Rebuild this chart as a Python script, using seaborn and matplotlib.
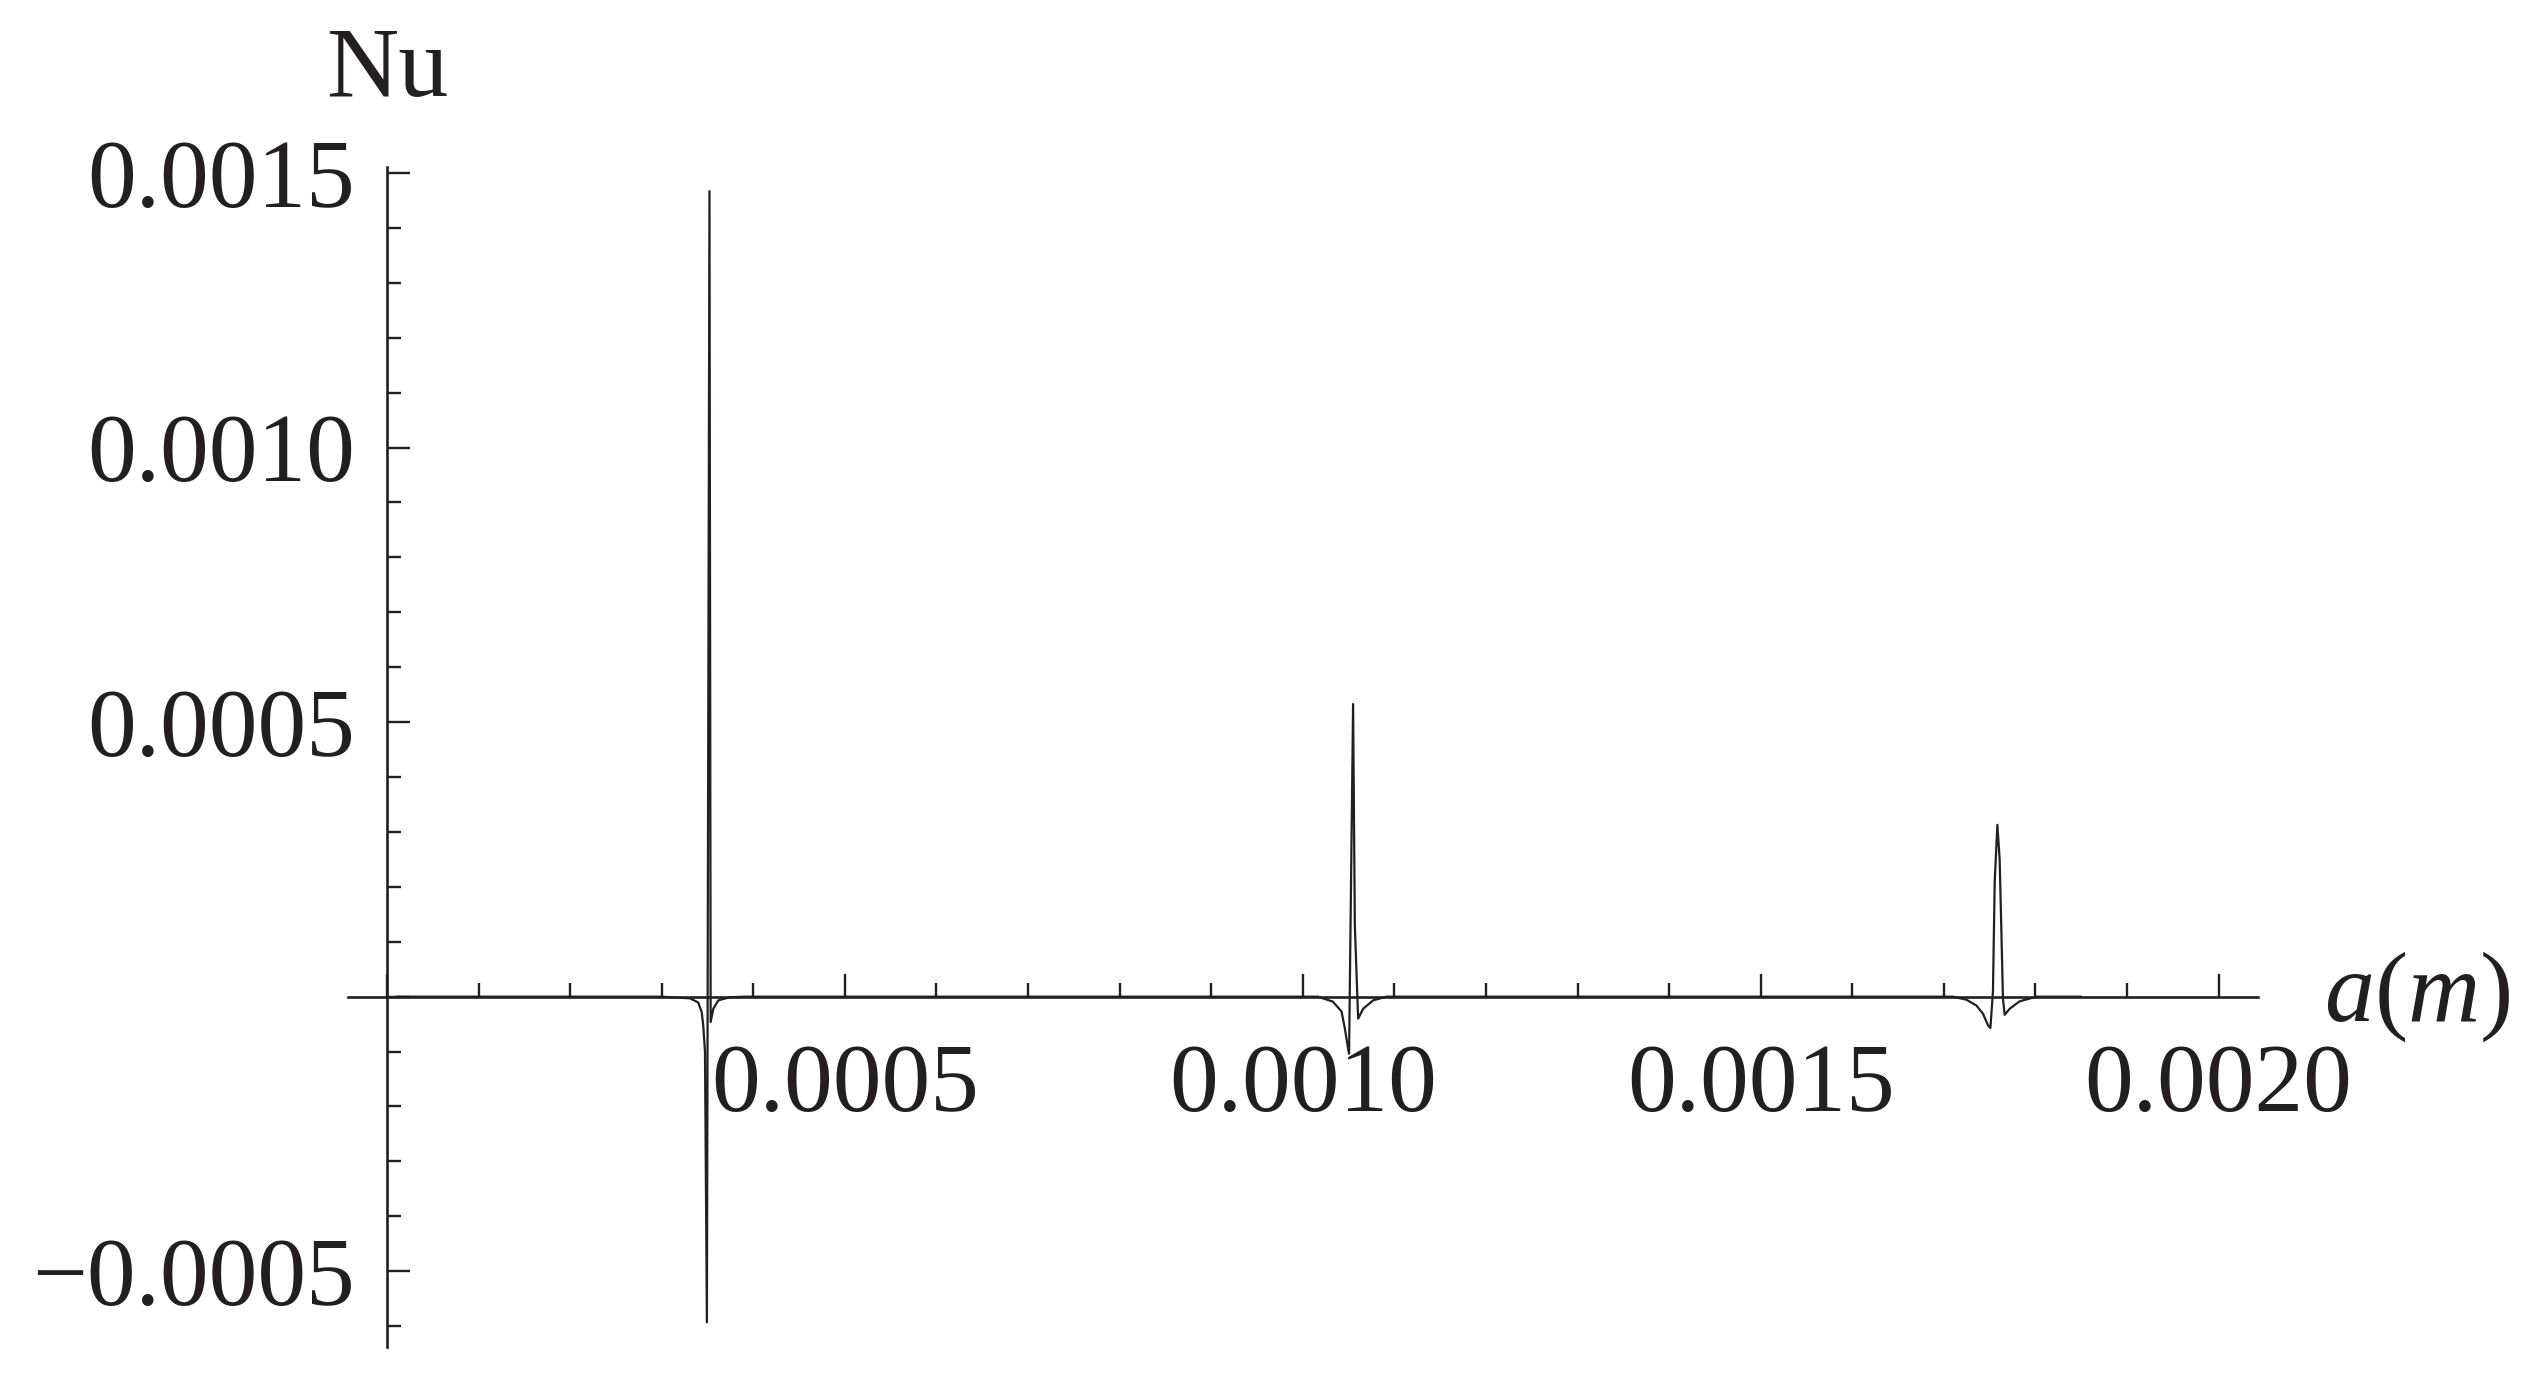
import numpy as np
import pandas as pd
import seaborn as sns
import matplotlib
matplotlib.use("Agg")
import matplotlib.pyplot as plt
from matplotlib.ticker import MultipleLocator, FuncFormatter

# Valores (a em metros, Nu adimensional)
base_x = [0.00001, 0.00020, 0.00030]
base_y = [0.0, 0.0, 0.0]

pico1_x = [0.0003144, 0.0003308, 0.0003398, 0.0003436, 0.0003453, 0.0003472,
           0.0003493, 0.0003521, 0.0003534, 0.0003563, 0.0003617, 0.0003745, 0.0003908]
pico1_y = [-0.0000015, -0.000003, -0.0000105, -0.000028, -0.000052, -0.0001,
           -0.000593, 0.001467, -0.000046, -0.000022, -0.0000067, -0.000001, 0.0]

meio_x = [0.00060, 0.00090, 0.0010164]
meio_y = [0.0, 0.0, 0.0]

pico2_x = [0.0010328, 0.0010423, 0.0010459, 0.0010495, 0.0010505, 0.0010549,
           0.0010568, 0.0010604, 0.0010659, 0.0010768, 0.0010914]
pico2_y = [-0.000009, -0.000027, -0.000058, -0.000095, -0.000104, 0.000533,
           0.00013, -0.00004, -0.000022, -0.0000067, 0.0]

meio2_x = [0.00130, 0.00160, 0.0017099]
meio2_y = [0.0, 0.0, 0.0]

pico3_x = [0.0017246, 0.0017355, 0.0017427, 0.0017481, 0.0017508, 0.0017536,
           0.0017555, 0.0017584, 0.0017609, 0.0017628, 0.0017645, 0.0017664,
           0.0017718, 0.0017827, 0.0018010]
pico3_y = [-0.0000055, -0.000016, -0.000031, -0.000052, -0.000057, 0.00001,
           0.00021, 0.000313, 0.00025, 0.000118, -0.0000036, -0.000033,
           -0.000022, -0.0000085, 0.0]

fim_x = [0.00185]
fim_y = [0.0]

x_lim = (-0.0000426, 0.002043)
y_lim = (-0.000638, 0.001511)

df = pd.DataFrame({
    'a': base_x + pico1_x + meio_x + pico2_x + meio2_x + pico3_x + fim_x,
    'Nu': base_y + pico1_y + meio_y + pico2_y + meio2_y + pico3_y + fim_y,
})

sns.set_style('white')
plt.rcParams['font.family'] = ['Liberation Serif', 'DejaVu Serif']
plt.rcParams['mathtext.fontset'] = 'custom'
plt.rcParams['mathtext.rm'] = 'Liberation Serif'
plt.rcParams['mathtext.it'] = 'Liberation Serif:italic'

cor = '#231f20'
fig = plt.figure(figsize=(25.37, 13.86), dpi=100)
ax = fig.add_axes([348 / 2537, 1 - 1347 / 1386, 1910 / 2537, 1180 / 1386])

sns.lineplot(data=df, x='a', y='Nu', ax=ax, sort=False, estimator=None,
             color=cor, linewidth=1.6)

ax.set_xlim(*x_lim)
ax.set_ylim(*y_lim)

# eixos cruzando na origem
for lado in ['top', 'right']:
    ax.spines[lado].set_visible(False)
ax.spines['left'].set_position(('data', 0))
ax.spines['bottom'].set_position(('data', 0))
for lado in ['left', 'bottom']:
    ax.spines[lado].set_color(cor)
    ax.spines[lado].set_linewidth(1.9)

ax.xaxis.set_major_locator(MultipleLocator(0.0005))
ax.xaxis.set_minor_locator(MultipleLocator(0.0001))
ax.yaxis.set_major_locator(MultipleLocator(0.0005))
ax.yaxis.set_minor_locator(MultipleLocator(0.0001))


def formata(v, pos):
    if abs(v) < 1e-9:
        return ''
    return f'{v:.4f}'.replace('-', '\u2212')


ax.xaxis.set_major_formatter(FuncFormatter(formata))
ax.yaxis.set_major_formatter(FuncFormatter(formata))

ax.tick_params(which='both', direction='in', color=cor, width=1.7,
               bottom=True, left=True, top=False, right=False,
               labelsize=70, labelcolor=cor)
ax.tick_params(which='major', length=16.5)
ax.tick_params(which='minor', length=10)
ax.tick_params(axis='y', which='major', pad=23)
ax.tick_params(axis='x', which='major', pad=34)
ax.set_xlabel('')
ax.set_ylabel('')

ax.text(0, 1.0602, 'Nu', transform=ax.get_xaxis_transform(), ha='center',
        va='baseline', fontsize=72, color=cor)
ax.text(1.0346, 0, r'$a(m)$', transform=ax.get_yaxis_transform(), ha='left',
        va='center', fontsize=72, color=cor)

ax.grid(False)
fig.savefig('out.png', dpi=100, facecolor='white')
